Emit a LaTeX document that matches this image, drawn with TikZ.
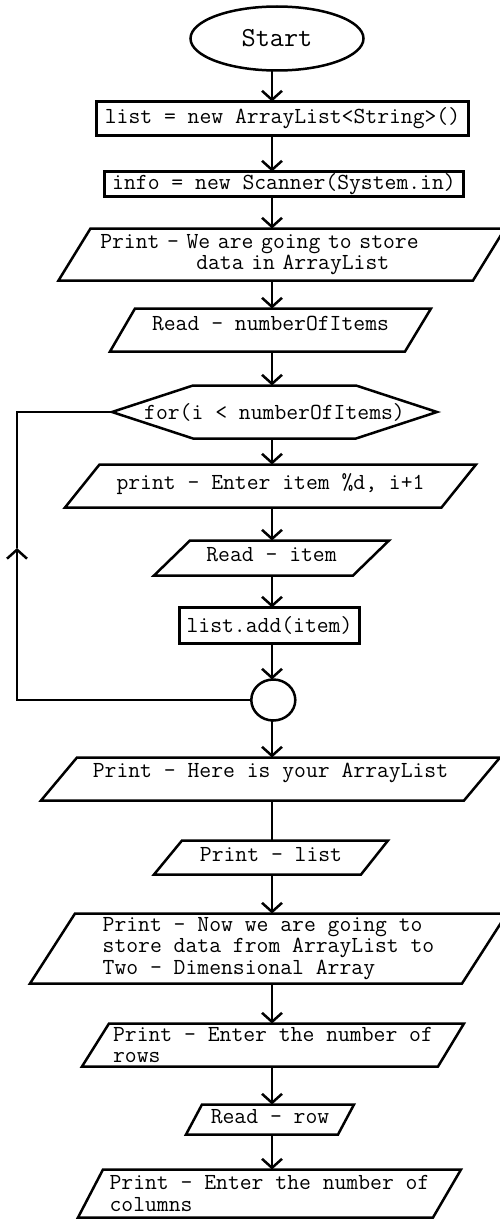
\documentclass[tikz,border=0pt]{standalone}
\usepackage{fontspec}
\usepackage{tikz}
\usetikzlibrary{arrows.meta,shapes.geometric}

% outline of an input/output node: node, top-left inset, bottom-right inset
\newcommand\slanted[3]{%
  \draw ([xshift=#2]#1.north west) -- (#1.north east)
    -- ([xshift=-#3]#1.south east) -- (#1.south west) -- cycle;}
% outline of the loop node: node, corner inset
\newcommand\hexagonal[2]{%
  \draw (#1.west) -- ([xshift=#2]#1.north west) -- ([xshift=-#2]#1.north east)
    -- (#1.east) -- ([xshift=-#2]#1.south east) -- ([xshift=#2]#1.south west) -- cycle;}

\begin{document}
\begin{tikzpicture}[x=1pt,y=-1pt,line width=2.5pt,
                    >={Straight Barb[length=9pt,width=20pt]},
                    every node/.style={font=\ttfamily\fontsize{23}{21.6}\selectfont,
                                       inner sep=0pt,outer sep=0pt},
                    process/.style={draw},
                    io/.style={align=left},
                    oneline/.style={text height=15pt,text depth=8pt}]
  \useasboundingbox (0,0) rectangle (499,1220);
  \coordinate (spine) at (272,0);
  \coordinate (back)  at (17,548);

  \node[draw,ellipse,minimum width=173pt,minimum height=64pt,
        font=\ttfamily\fontsize{27.5}{30}\selectfont] (start) at (277,38.5) {Start};
  \node[process,minimum width=372pt,minimum height=34pt] (init) at (282.5,118.5)
       {list = new ArrayList<String>()};
  \node[process,minimum width=359pt,minimum height=25pt] (scan) at (284,184)
       {info = new Scanner(System.in)};
  \node[io,minimum width=446.5pt,minimum height=52pt,text width=363pt] (intro) at (281.75,254.5)
       {Print - We are going to store\\\hspace*{96pt}data in ArrayList};
  \node[io,oneline,text depth=15pt,minimum width=321pt,minimum height=43pt] (count) at (270.5,330)
       {Read - numberOfItems};
  \node[minimum width=325pt,minimum height=53pt] (loop) at (274.5,412)
       {for(i < numberOfItems)};
  \node[io,oneline,minimum width=411pt,minimum height=43pt] (ask) at (270.5,486)
       {print - Enter item \%d, i+1};
  \node[io,oneline,minimum width=235pt,minimum height=35pt] (item) at (271.5,558)
       {Read - item};
  \node[process,minimum width=180pt,minimum height=36pt] (add) at (269.5,625.5)
       {list.add(item)};
  \node[draw,ellipse,minimum width=44pt,minimum height=41pt] (join) at (273.3,700) {};
  \node[io,oneline,text depth=19pt,minimum width=459pt,minimum height=43pt] (show) at (270.5,779)
       {Print - Here is your ArrayList};
  \node[io,oneline,minimum width=234pt,minimum height=34pt] (print) at (271,857.5)
       {Print - list};
  \node[io,minimum width=477pt,minimum height=70pt] (copy) at (268.5,948.5)
       {Print - Now we are going to\\store data from ArrayList to\\Two - Dimensional Array};
  \node[io,minimum width=382pt,minimum height=43pt] (rows) at (273,1045)
       {Print - Enter the number of\\rows};
  \node[io,oneline,minimum width=168pt,minimum height=30pt] (readrow) at (270,1119.5)
       {Read - row};
  \node[io,minimum width=383pt,minimum height=48pt] (cols) at (269.5,1193.5)
       {Print - Enter the number of\\columns};

  \slanted{intro}{32pt}{32pt}
  \slanted{count}{25pt}{26pt}
  \hexagonal{loop}{81pt}
  \slanted{ask}{34.5pt}{34.5pt}
  \slanted{item}{36pt}{36pt}
  \slanted{show}{36pt}{36pt}
  \slanted{print}{28pt}{27pt}
  \slanted{copy}{45pt}{45pt}
  \slanted{rows}{27pt}{26pt}
  \slanted{readrow}{16pt}{16pt}
  \slanted{cols}{25pt}{28pt}

  \path[->] (start.south -| spine)   edge      (init.north -| spine)
            (init.south -| spine)    edge      (scan.north -| spine)
            (scan.south -| spine)    edge      (intro.north -| spine)
            (intro.south -| spine)   edge      (count.north -| spine)
            (count.south -| spine)   edge      (loop.north -| spine)
            (loop.south -| spine)    edge      (ask.north -| spine)
            (ask.south -| spine)     edge      (item.north -| spine)
            (item.south -| spine)    edge      (add.north -| spine)
            (add.south -| spine)     edge      (join.north -| spine)
            (join.south -| spine)    edge      (show.north -| spine)
            (show.south -| spine)    edge [-]  (print.north -| spine)
            (print.south -| spine)   edge      (copy.north -| spine)
            (copy.south -| spine)    edge      (rows.north -| spine)
            (rows.south -| spine)    edge      (readrow.north -| spine)
            (readrow.south -| spine) edge      (cols.north -| spine);

  % back to the loop test
  \draw[->] (join.west) -| (back);
  \draw (back) |- (loop.west);
\end{tikzpicture}
\end{document}
